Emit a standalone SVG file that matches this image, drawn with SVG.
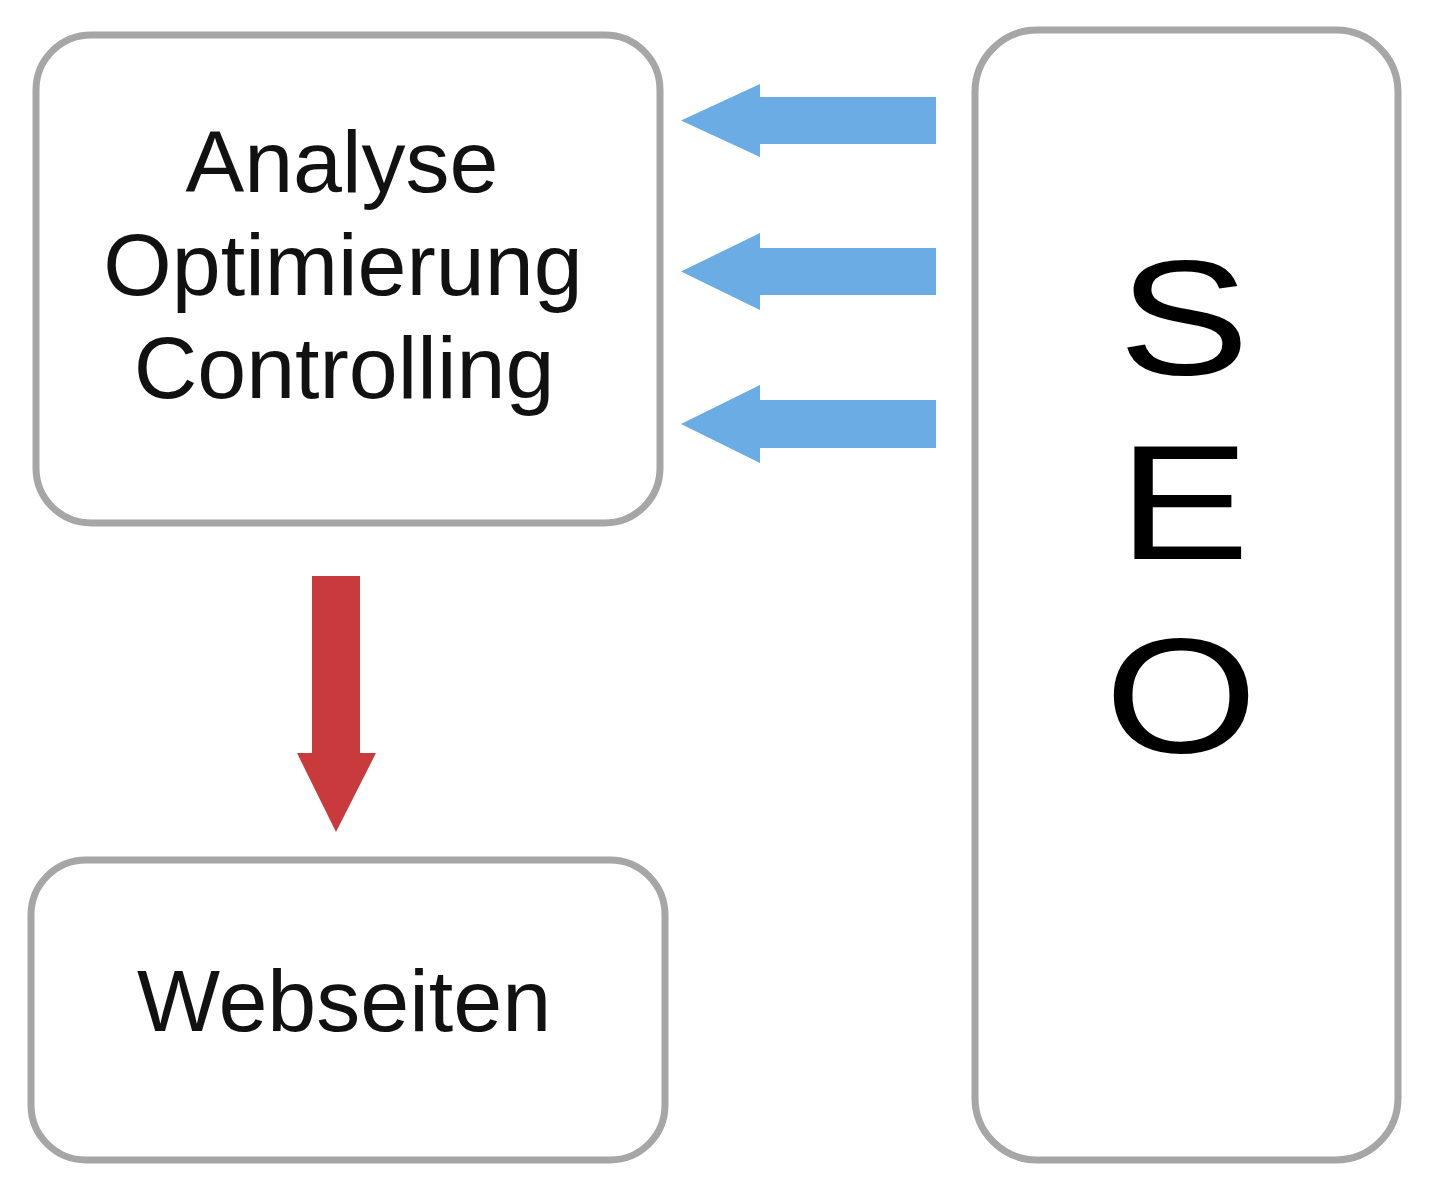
<svg xmlns="http://www.w3.org/2000/svg" width="1440" height="1200" viewBox="0 0 1440 1200">
<style>
.box{fill:#ffffff;stroke:#a6a6a6;stroke-width:7}
.lbl{font-family:"Liberation Sans",Arial,sans-serif;font-size:88px;fill:#111111;text-anchor:middle}
.big{font-family:"Liberation Sans",Arial,sans-serif;font-size:164px;fill:#000000;text-anchor:middle}
.blue{fill:#6aace3}
.red{fill:#c93a3d}
</style>
<rect width="1440" height="1200" fill="#ffffff"/>
<g id="node-analyse">
<rect class="box" x="36" y="35" width="624" height="488" rx="55" ry="55"/>
<text class="lbl" x="342" y="192">Analyse</text>
<text class="lbl" x="343" y="295">Optimierung</text>
<text class="lbl" x="344" y="398">Controlling</text>
</g>
<g id="node-webseiten">
<rect class="box" x="31" y="860" width="634" height="300" rx="55" ry="55"/>
<text class="lbl" x="344" y="1031">Webseiten</text>
</g>
<g id="node-seo">
<rect class="box" x="975" y="30" width="423" height="1130" rx="62" ry="62"/>
<text class="big" transform="translate(1184,374) scale(1.2,1)" x="0" y="0">S</text>
<text class="big" transform="translate(1184,559) scale(1.2,1)" x="0" y="0">E</text>
<text class="big" transform="translate(1181,752) scale(1.2,1)" x="0" y="0">O</text>
</g>
<g id="connectors">
<polygon class="blue" points="936,97 760,97 760,84 681,120.5 760,157 760,144 936,144"/>
<polygon class="blue" points="936,248 760,248 760,233 681,271.5 760,310 760,295 936,295"/>
<polygon class="blue" points="936,400 760,400 760,385 681,424 760,463 760,448 936,448"/>
<polygon class="red" points="312,576 360,576 360,753 376,753 336,832 297,753 312,753"/>
</g>
</svg>
